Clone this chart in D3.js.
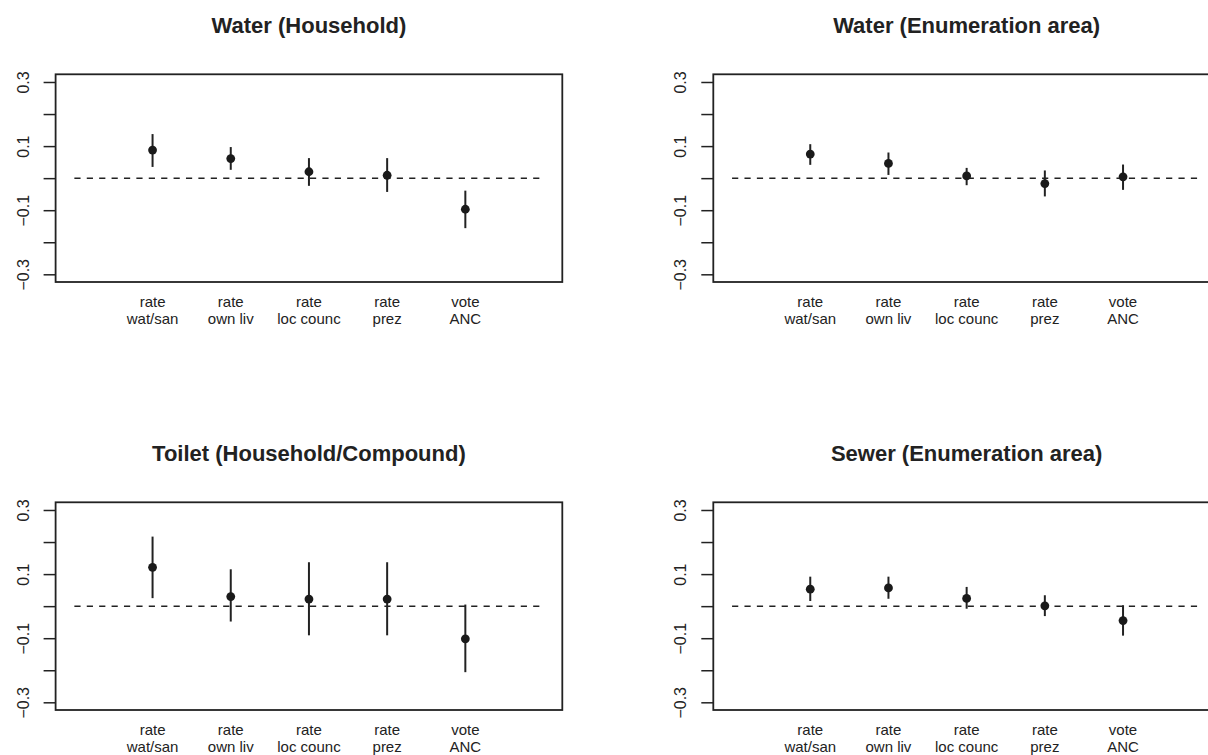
<!DOCTYPE html>
<html>
<head>
<meta charset="utf-8">
<script src="https://cdn.jsdelivr.net/npm/d3@7"></script>
<style>
  body { margin: 0; background: #fff; }
  text { font-family: "Liberation Sans", Arial, Helvetica, sans-serif; fill: #222; }
</style>
</head>
<body>
<svg id="chart" width="1208" height="755"></svg>
<script>
// categories (two lines each)
const labelTop = ["rate", "rate", "rate", "rate", "vote"];
const labelBottom = ["wat/san", "own liv", "loc counc", "prez", "ANC"];

// panel titles
const titles = ["Water (Household)", "Water (Enumeration area)", "Toilet (Household/Compound)", "Sewer (Enumeration area)"];

// estimates and intervals
const waterHHEst = [0.0875, 0.061, 0.020, 0.009, -0.097];
const waterHHLo = [0.035, 0.026, -0.024, -0.043, -0.156];
const waterHHHi = [0.1375, 0.097, 0.0625, 0.0625, -0.039];

const waterEAEst = [0.075, 0.046, 0.007, -0.017, 0.004];
const waterEALo = [0.0415, 0.010, -0.022, -0.057, -0.0365];
const waterEAHi = [0.106, 0.080, 0.032, 0.024, 0.0425];

const toiletEst = [0.121, 0.030, 0.022, 0.022, -0.102];
const toiletLo = [0.025, -0.048, -0.091, -0.091, -0.206];
const toiletHi = [0.217, 0.115, 0.137, 0.137, 0.005];

const sewerEst = [0.053, 0.057, 0.024, 0.001, -0.045];
const sewerLo = [0.016, 0.023, -0.008, -0.031, -0.092];
const sewerHi = [0.092, 0.092, 0.060, 0.034, 0.003];

const yTicks = [-0.3, -0.2, -0.1, 0, 0.1, 0.2, 0.3];
const yLabelled = [-0.3, -0.1, 0.1, 0.3];

const panels = [
  { title: titles[0], est: waterHHEst, lo: waterHHLo, hi: waterHHHi },
  { title: titles[1], est: waterEAEst, lo: waterEALo, hi: waterEAHi },
  { title: titles[2], est: toiletEst, lo: toiletLo, hi: toiletHi },
  { title: titles[3], est: sewerEst, lo: sewerLo, hi: sewerHi }
];

const plotW = 506.7, plotH = 207.7;
const lefts = [55.6, 713.3];
const tops = [74.3, 502.3];
const ink = "#222";

const svg = d3.select("#chart");

const x = d3.scaleLinear().domain([-0.24, 6.24]).range([0, plotW]);
const y = d3.scaleLinear().domain([-0.324, 0.324]).range([plotH, 0]);

panels.forEach((p, i) => {
  const g = svg.append("g")
    .attr("transform", `translate(${lefts[i % 2]},${tops[Math.floor(i / 2)]})`);

  // title
  g.append("text")
    .attr("x", plotW / 2)
    .attr("y", -41)
    .attr("text-anchor", "middle")
    .style("font-size", "22px")
    .style("font-weight", "bold")
    .text(p.title);

  // y axis with rotated labels
  const yAxis = g.append("g")
    .call(d3.axisLeft(y).tickValues(yTicks).tickSize(12)
      .tickFormat(d => yLabelled.some(v => Math.abs(v - d) < 1e-9) ? d3.format(".1f")(d) : ""));
  yAxis.select(".domain").remove();
  yAxis.selectAll(".tick line").attr("stroke", ink).attr("stroke-width", 1.5);
  yAxis.selectAll(".tick text")
    .attr("transform", "rotate(-90)")
    .attr("x", 0)
    .attr("y", -27)
    .attr("dy", 0)
    .attr("text-anchor", "middle")
    .style("font-size", "16px")
    .style("font-family", "'Liberation Sans', Arial, Helvetica, sans-serif")
    .attr("fill", ink);

  // zero reference line
  g.append("line")
    .attr("x1", x(0)).attr("x2", x(6))
    .attr("y1", y(0)).attr("y2", y(0))
    .attr("stroke", ink)
    .attr("stroke-width", 1.5)
    .attr("stroke-dasharray", "6.2,6.2");

  // intervals
  g.selectAll(".ci")
    .data(p.est)
    .join("line")
    .attr("class", "ci")
    .attr("x1", (d, j) => x(j + 1)).attr("x2", (d, j) => x(j + 1))
    .attr("y1", (d, j) => y(p.lo[j])).attr("y2", (d, j) => y(p.hi[j]))
    .attr("stroke", ink)
    .attr("stroke-width", 2);

  // point estimates
  g.selectAll(".pt")
    .data(p.est)
    .join("circle")
    .attr("class", "pt")
    .attr("cx", (d, j) => x(j + 1))
    .attr("cy", d => y(d))
    .attr("r", 4.4)
    .attr("fill", "#1a1a1a");

  // category labels
  labelTop.forEach((t, j) => {
    const lab = g.append("text")
      .attr("text-anchor", "middle")
      .style("font-size", "15px")
      .attr("x", x(j + 1));
    lab.append("tspan").attr("x", x(j + 1)).attr("y", plotH + 24.7).text(t);
    lab.append("tspan").attr("x", x(j + 1)).attr("y", plotH + 42.3).text(labelBottom[j]);
  });

  // box
  g.append("rect")
    .attr("width", plotW)
    .attr("height", plotH)
    .attr("fill", "none")
    .attr("stroke", ink)
    .attr("stroke-width", 1.8);
});
</script>
</body>
</html>
